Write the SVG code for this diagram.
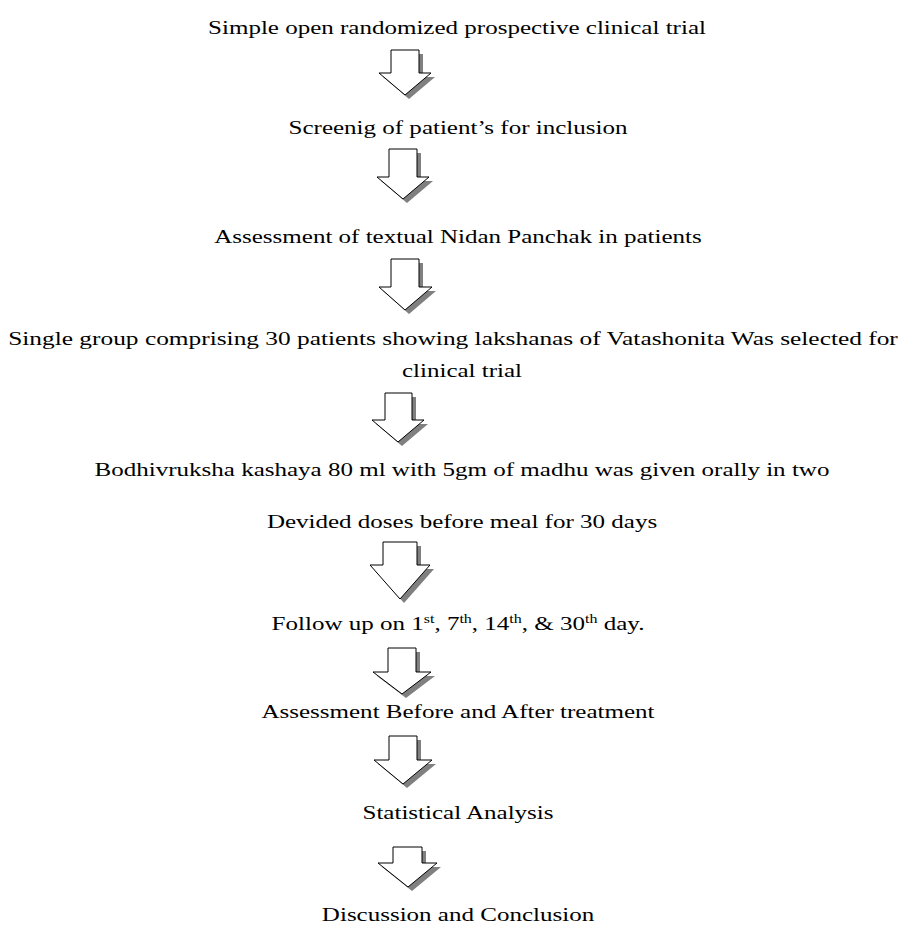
<svg xmlns="http://www.w3.org/2000/svg" xmlns:xlink="http://www.w3.org/1999/xlink" width="907" height="927" viewBox="0 0 907 927">
<style>
.t{font-family:"Liberation Serif","Times New Roman",serif;font-size:18px;fill:#000;text-anchor:middle}
.a{fill:#fff;stroke:#000;stroke-width:1}
.s{fill:#808080;stroke:none}
.sup{font-size:11.5px}
</style>
<rect width="907" height="927" fill="#fff"/>
<defs>
<polygon id="a1" points="391,50 419,50 419,73 431,73 405,95 379,73 391,73"/>
<polygon id="a2" points="389,149 417,149 417,177 429,177 403,199 377,177 389,177"/>
<polygon id="a3" points="391,259 419,259 419,287 432,287 405,310 379,287 391,287"/>
<polygon id="a4" points="385,393 412,393 412,420 424,420 398,442 372,420 385,420"/>
<polygon id="a5" points="383,542 417,542 417,565 430,565 400,599 370,565 383,565"/>
<polygon id="a6" points="388,648 416,648 416,672 431,672 402,694 373,672 388,672"/>
<polygon id="a7" points="389,736 417,736 417,760 432,760 403,784 374,760 389,760"/>
<polygon id="a8" points="393,847 422,847 422,863 437,863 408,887 378,863 393,863"/>
</defs>
<g id="connectors">
<use href="#a1" class="s" transform="translate(4,4)"/><use href="#a1" class="a"/>
<use href="#a2" class="s" transform="translate(4,4)"/><use href="#a2" class="a"/>
<use href="#a3" class="s" transform="translate(4,4)"/><use href="#a3" class="a"/>
<use href="#a4" class="s" transform="translate(4,4)"/><use href="#a4" class="a"/>
<use href="#a5" class="s" transform="translate(4,4)"/><use href="#a5" class="a"/>
<use href="#a6" class="s" transform="translate(4,4)"/><use href="#a6" class="a"/>
<use href="#a7" class="s" transform="translate(4,4)"/><use href="#a7" class="a"/>
<use href="#a8" class="s" transform="translate(4,4)"/><use href="#a8" class="a"/>
</g>
<g id="n1"><text class="t" transform="translate(457,34) scale(1.39,1)">Simple open randomized prospective clinical trial</text></g>
<g id="n2"><text class="t" transform="translate(458,134) scale(1.39,1)">Screenig of patient’s for inclusion</text></g>
<g id="n3"><text class="t" transform="translate(458,243) scale(1.39,1)">Assessment of textual Nidan Panchak in patients</text></g>
<g id="n4"><text class="t" transform="translate(453,345) scale(1.39,1)" textLength="640" lengthAdjust="spacingAndGlyphs">Single group comprising 30 patients showing lakshanas of Vatashonita Was selected for</text>
<text class="t" transform="translate(462,377) scale(1.39,1)">clinical trial</text></g>
<g id="n5"><text class="t" transform="translate(462,476) scale(1.39,1)">Bodhivruksha kashaya 80 ml with 5gm of madhu was given orally in two</text>
<text class="t" transform="translate(462,528) scale(1.39,1)">Devided doses before meal for 30 days</text></g>
<g id="n6"><text class="t" transform="translate(458,630) scale(1.39,1)">Follow up on 1<tspan class="sup" dy="-7">st</tspan><tspan dy="7">, 7</tspan><tspan class="sup" dy="-7">th</tspan><tspan dy="7">, 14</tspan><tspan class="sup" dy="-7">th</tspan><tspan dy="7">, &amp; 30</tspan><tspan class="sup" dy="-7">th</tspan><tspan dy="7"> day.</tspan></text></g>
<g id="n7"><text class="t" transform="translate(458,718) scale(1.39,1)">Assessment Before and After treatment</text></g>
<g id="n8"><text class="t" transform="translate(458,819) scale(1.39,1)">Statistical Analysis</text></g>
<g id="n9"><text class="t" transform="translate(458,921) scale(1.39,1)">Discussion and Conclusion</text></g>
</svg>
